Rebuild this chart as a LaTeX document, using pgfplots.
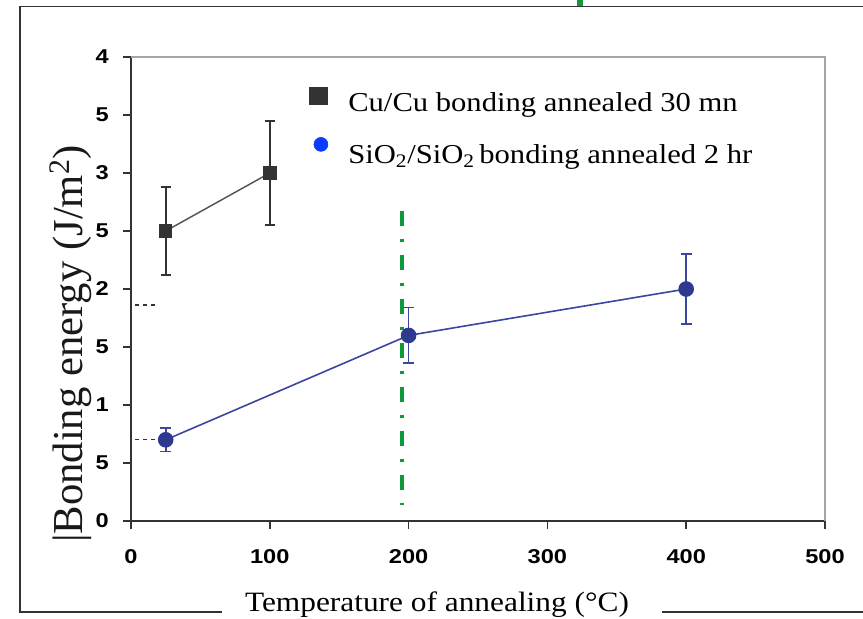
\documentclass[border=0pt]{standalone}
\usepackage{fontspec}
\setmainfont{Liberation Serif}
\newfontfamily\legfont{Liberation Serif}[FakeStretch=1.12]
\newfontfamily\tickfont{Liberation Sans Bold}[FakeStretch=1.18]
\usepackage{pgfplots}
\pgfplotsset{compat=1.18}
\definecolor{cugray}{HTML}{333333}
\definecolor{culine}{HTML}{555555}
\definecolor{sinavy}{HTML}{2E3990}
\definecolor{siline}{HTML}{3A46A0}
\definecolor{legblue}{HTML}{0A3CFF}
\definecolor{vgreen}{HTML}{0E9A3C}
\definecolor{framec}{HTML}{333333}
\pgfplotsset{
  legsq/.style={legend image code/.code={\path[draw=none] (-7pt,0pt) -- (22.5pt,0pt); \draw[##1, draw=none] plot coordinates {(0pt,7pt)};}},
  legci/.style={legend image code/.code={\path[draw=none] (-7pt,0pt) -- (22.5pt,0pt); \draw[##1, draw=none] plot coordinates {(2pt,9pt)};}},
}
\begin{document}
\begin{tikzpicture}
\begin{scope}[x=0.75pt,y=0.75pt]
\path[use as bounding box] (0,0) rectangle (863,618);
\draw[framec, line width=1.4pt] (222,6) -- (20,6) -- (20,611.5) -- (863,611.5);
\draw[framec, line width=1.4pt] (662,6) -- (863,6);
\fill[vgreen] (577,612) rectangle (583,618);
\node[rotate=90, anchor=base, font=\fontsize{32pt}{36pt}\selectfont, text=black!90, inner sep=0pt] at (82,274) {|Bonding energy (J/m\textsuperscript{2})};
\node[anchor=base, font=\legfont\fontsize{21pt}{24pt}\selectfont, inner sep=0pt] at (437,7) {Temperature of annealing (°C)};
\end{scope}
\begin{axis}[
  at={(98.25pt,72.75pt)}, anchor=south west,
  scale only axis, width=520.5pt, height=348pt,
  xmin=0, xmax=500, ymin=0, ymax=4,
  axis x line*=bottom, axis y line*=left,
  axis line style={framec, line width=1.5pt},
  xtick={0,100,200,300,400,500},
  ytick={0,0.5,1,1.5,2,2.5,3,3.5,4},
  yticklabels={0,5,1,5,2,5,3,5,4},
  tick align=outside, major tick length=6pt,
  tick style={framec, line width=1.2pt},
  ticklabel style={font=\tickfont\fontsize{15pt}{17pt}\selectfont, text=black, inner sep=0pt},
  /pgf/number format/assume math mode=true,
  xticklabel style={yshift=-15.5pt},
  yticklabel style={xshift=-10.5pt},
  clip=false,
  legend style={draw=none, fill=none, at={(axis cs:128,3.745)}, anchor=north west,
    font=\legfont\fontsize{20.5pt}{24pt}\selectfont, row sep=14.5pt, inner sep=0pt,
    nodes={inner sep=0pt, text height=15pt, text depth=5pt}},
  legend cell align=left,
]
\addlegendimage{mark=square*, mark size=6.4pt, mark options={fill=cugray, draw=cugray}, legsq}
\addlegendentry{Cu/Cu bonding annealed 30 mn}
\addlegendimage{mark=*, mark size=5.25pt, mark options={fill=legblue, draw=legblue}, legci}
\addlegendentry{SiO\textsubscript{2}/SiO\textsubscript{2}\,bonding annealed 2 hr}

\draw[gray!70, line width=1.1pt] (rel axis cs:0,1) -- (rel axis cs:1,1) -- (rel axis cs:1,0);

\addplot[vgreen, line width=3.2pt, dash pattern=on 11.5pt off 9.5pt on 2.5pt off 9.5pt, forget plot]
  coordinates {(195,2.672) (195,0.138)};
\addplot[black!80, line width=1pt, dash pattern=on 3pt off 3pt, forget plot]
  coordinates {(3,1.862) (19,1.862)};
\addplot[black!80, line width=1pt, dash pattern=on 3pt off 3pt, forget plot]
  coordinates {(3,0.7) (20,0.7)};

\addplot[culine, line width=1.1pt, mark=square*, mark size=4.5pt,
  mark options={solid, fill=cugray, draw=cugray}, forget plot,
  error bars/.cd, y dir=both, y explicit,
  error bar style={cugray, line width=1.3pt},
  error mark options={rotate=90, mark size=3.75pt, cugray, line width=1.3pt}]
  coordinates {(25,2.5) +- (0,0.38) (100,3.0) +- (0,0.45)};

\addplot[siline, line width=1.2pt, mark=*, mark size=5.25pt,
  mark options={solid, fill=sinavy, draw=sinavy}, forget plot,
  error bars/.cd, y dir=both, y explicit,
  error bar style={siline, line width=1.3pt},
  error mark options={rotate=90, mark size=4pt, siline, line width=1.3pt}]
  coordinates {(25,0.7) +- (0,0.1) (200,1.6) +- (0,0.24) (400,2.0) +- (0,0.3)};
\end{axis}
\end{tikzpicture}
\end{document}
